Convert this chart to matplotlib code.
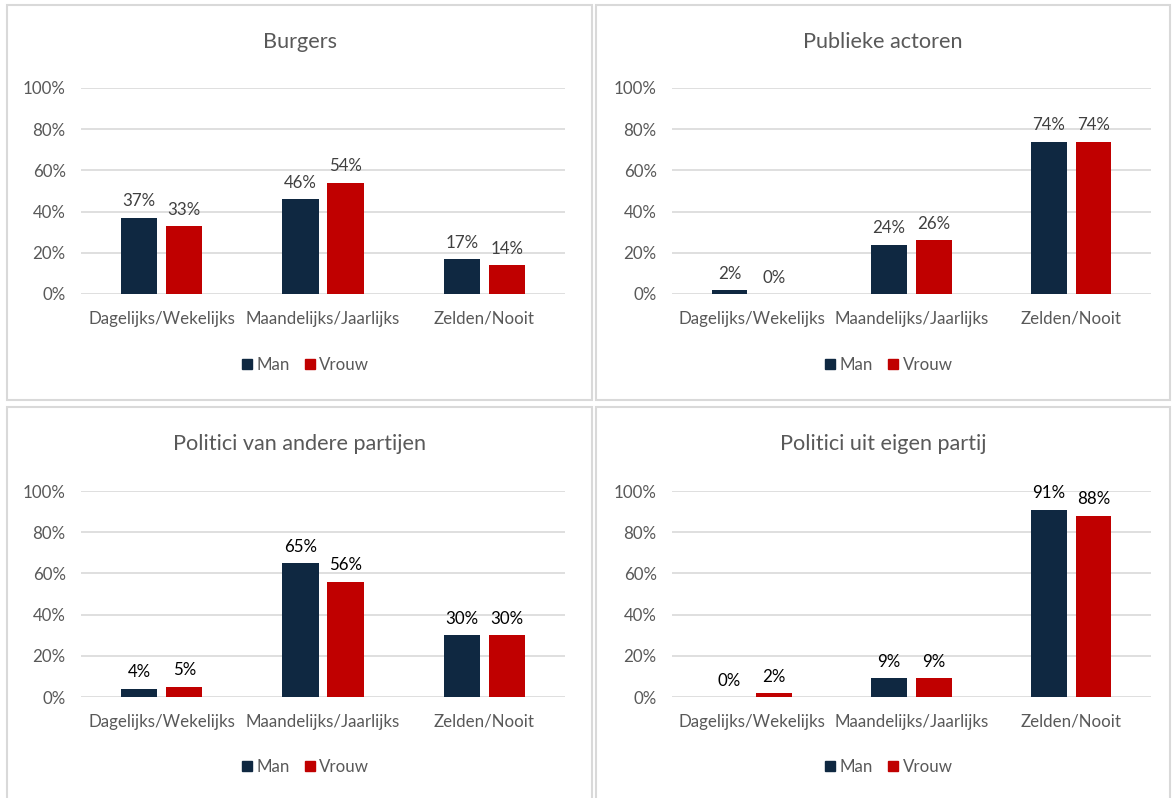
import matplotlib
matplotlib.use("Agg")
import matplotlib.pyplot as plt
from matplotlib.patches import Rectangle, Patch
import numpy as np

plt.rcParams['font.family'] = ['Lato', 'DejaVu Sans']

categories = ["Dagelijks/Wekelijks", "Maandelijks/Jaarlijks", "Zelden/Nooit"]
series_names = ["Man", "Vrouw"]
titles = ["Burgers", "Publieke actoren", "Politici van andere partijen", "Politici uit eigen partij"]
man_values = [
    [37, 46, 17],
    [2, 24, 74],
    [4, 65, 30],
    [0, 9, 91],
]
vrouw_values = [
    [33, 54, 14],
    [0, 26, 74],
    [5, 56, 30],
    [2, 9, 88],
]
yticks = [0, 20, 40, 60, 80, 100]
ytick_labels = ["0%", "20%", "40%", "60%", "80%", "100%"]

colors = ["#0F2841", "#C00000"]
W, H = 1173, 798
fig = plt.figure(figsize=(W / 100, H / 100), dpi=100)

def fx(x):
    return x / W

def fy(y):
    return 1 - y / H

panels = [
    (7, 5, 592, 400, 81, 565, 88, 294),
    (596, 5, 1170, 400, 672, 1151, 88, 294),
    (7, 407, 592, 803, 81, 565, 491, 697),
    (596, 407, 1170, 803, 672, 1151, 491, 697),
]
label_colors = ["#404040", "#404040", "#000000", "#000000"]
fs = 12.2

for i, (bl, bt, br, bb, al, ar, at, ab) in enumerate(panels):
    fig.patches.append(Rectangle((fx(bl), fy(bb)), fx(br - bl), (bb - bt) / H,
                                 transform=fig.transFigure, fill=False,
                                 edgecolor="#d9d9d9", linewidth=1.5, zorder=0))
    ax = fig.add_axes([fx(al), fy(ab), fx(ar - al), (ab - at) / H])
    x = np.arange(len(categories))
    bw = 0.225
    off = 0.14
    b1 = ax.bar(x - off, man_values[i], bw, color=colors[0], zorder=3, label=series_names[0])
    b2 = ax.bar(x + off, vrouw_values[i], bw, color=colors[1], zorder=3, label=series_names[1])
    for bars, vals in ((b1, man_values[i]), (b2, vrouw_values[i])):
        for rect, v in zip(bars, vals):
            ax.annotate(f"{v}%", (rect.get_x() + rect.get_width() / 2, rect.get_height()),
                        xytext=(0, 6), textcoords="offset points", ha="center", va="bottom",
                        fontsize=fs, color=label_colors[i])
    ax.set_xlim(-0.5, 2.5)
    ax.set_ylim(0, 100)
    ax.set_yticks(yticks)
    ax.set_yticklabels(ytick_labels)
    ax.set_xticks(x)
    ax.set_xticklabels(categories)
    ax.tick_params(axis="both", length=0, labelsize=fs, colors="#595959")
    ax.tick_params(axis="y", pad=11)
    ax.tick_params(axis="x", pad=12)
    ax.grid(axis="y", color="#d9d9d9", linewidth=1.2, zorder=0)
    ax.set_axisbelow(True)
    for s in ax.spines.values():
        s.set_visible(False)
    ax.set_facecolor("none")
    cx = (bl + br) / 2
    fig.text(fx(cx), fy(bt + 37), titles[i], ha="center", va="center", fontsize=15.6, color="#595959")
    handles = [Patch(color=colors[0]), Patch(color=colors[1])]
    leg = ax.legend(handles, series_names, loc="center", bbox_to_anchor=(fx(cx + 6), fy(bt + 360)),
                    bbox_transform=fig.transFigure, ncol=2, frameon=False,
                    handlelength=0.6, handleheight=0.6, handletextpad=0.25,
                    columnspacing=0.9, fontsize=fs)
    for t in leg.get_texts():
        t.set_color("#595959")

fig.savefig("out.png", dpi=100)
